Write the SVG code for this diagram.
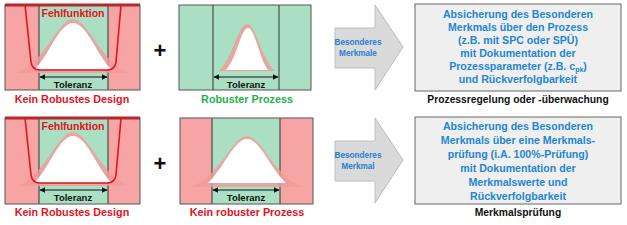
<svg xmlns="http://www.w3.org/2000/svg" width="627" height="225" viewBox="0 0 627 225">
<defs>
<style>
.pk{fill:#f6a4a4}
.gr{fill:#aadfc4}
.frame{fill:none;stroke:#555;stroke-width:1}
.vl{stroke:#333;stroke-width:1}
.tub{fill:none;stroke:#e4121b;stroke-width:1.6}
.topline{stroke:#e4121b;stroke-width:3}
.bellp{fill:#f39a9a;opacity:0.8}
.bellw{fill:#fff}
.tol{stroke:#111;stroke-width:1;marker-start:url(#ah);marker-end:url(#ah)}
.t{font-family:"Liberation Sans",Arial,sans-serif;font-weight:bold;text-anchor:middle}
.tt{font-size:9.5px;fill:#111}
.fehl{font-size:10.5px;fill:#e4121b}
.lr{font-size:10.8px;fill:#e4121b}
.lg{font-size:10.8px;fill:#22b04a}
.plus{font-size:22px;fill:#111}
.arr{fill:#dadada;stroke:#bdbdbd;stroke-width:1}
.at{font-size:8.2px;fill:#1f7fd0}
.box{fill:#efefef;stroke:#666;stroke-width:1}
.bt{font-size:10.6px;fill:#1f86d1}
.cap{font-size:10.3px;fill:#111}
</style>
<marker id="ah" viewBox="0 0 10 10" refX="9" refY="5" markerWidth="6" markerHeight="6" orient="auto-start-reverse" markerUnits="userSpaceOnUse"><path d="M0,0 L10,5 L0,10 Z" fill="#111"/></marker>
<clipPath id="c1"><rect x="5" y="5" width="135" height="85"/></clipPath>
<clipPath id="c3"><rect x="5" y="118" width="135" height="86"/></clipPath>
<clipPath id="c4"><rect x="180" y="118" width="133" height="86"/></clipPath>
</defs>

<!-- Top row, panel 1 -->
<g id="design-top">
<rect class="pk" x="5" y="5" width="135" height="85"/>
<rect class="gr" x="39" y="5" width="69" height="85"/>
<line class="vl" x1="39" y1="5" x2="39" y2="90"/>
<line class="vl" x1="108" y1="5" x2="108" y2="90"/>
<g clip-path="url(#c1)">
<path class="bellp" d="M17,73 C44,64 58,19 73,19 C88,19 102,64 129,73 Z"/>
<path class="bellw" d="M34,70 C49,56 59,23 73,23 C87,23 97,56 112,70 Z"/>
</g>
<path class="tub" d="M25,5 L31,62 Q32,70 40,70 L107,70 Q115,70 116,62 L121,5"/>
<line class="topline" x1="5" y1="5" x2="140" y2="5"/>
<rect class="frame" x="5" y="5" width="135" height="85"/>
<text class="t fehl" x="73" y="17">Fehlfunktion</text>
<line class="tol" x1="40" y1="77" x2="107" y2="77"/>
<text class="t tt" x="73" y="88">Toleranz</text>
<text class="t lr" x="72" y="103">Kein Robustes Design</text>
</g>

<text class="t plus" x="160" y="58">+</text>

<!-- Top row, panel 2 -->
<g id="process-top">
<rect class="gr" x="179" y="5" width="132" height="85"/>
<line class="vl" x1="213" y1="5" x2="213" y2="90"/>
<line class="vl" x1="279" y1="5" x2="279" y2="90"/>
<path class="bellp" d="M219,71 C232,60 238,24 247,24 C256,24 262,60 275,71 Z"/>
<path class="bellw" d="M226,70 C237,58 241,28 248,28 C255,28 259,58 268,70 Z"/>
<rect class="frame" x="179" y="5" width="132" height="85"/>
<line class="tol" x1="214" y1="77" x2="278" y2="77"/>
<text class="t tt" x="246" y="88">Toleranz</text>
<text class="t lg" x="247" y="103">Robuster Prozess</text>
</g>

<g id="arrow-top">
<polygon class="arr" points="335,28 375,28 375,5 403,47 375,90 375,68 335,68"/>
<text class="t at" x="358" y="45">Besonderes</text>
<text class="t at" x="358" y="56">Merkmale</text>
</g>

<g id="box-top">
<rect class="box" x="415" y="4" width="206" height="87"/>
<text class="t bt" x="518" y="18">Absicherung des Besonderen</text>
<text class="t bt" x="518" y="31">Merkmals über den Prozess</text>
<text class="t bt" x="518" y="44">(z.B. mit SPC oder SPÜ)</text>
<text class="t bt" x="518" y="57">mit Dokumentation der</text>
<text class="t bt" x="518" y="70">Prozessparameter (z.B. c<tspan font-size="7px" dy="2">pk</tspan><tspan dy="-2">)</tspan></text>
<text class="t bt" x="518" y="83">und Rückverfolgbarkeit</text>
<text class="t cap" x="518" y="103">Prozessregelung oder -überwachung</text>
</g>

<!-- Bottom row, panel 1 -->
<g id="design-bottom">
<rect class="pk" x="5" y="118" width="135" height="86"/>
<rect class="gr" x="39" y="118" width="69" height="86"/>
<line class="vl" x1="39" y1="118" x2="39" y2="204"/>
<line class="vl" x1="108" y1="118" x2="108" y2="204"/>
<g clip-path="url(#c3)">
<path class="bellp" d="M17,186 C44,177 58,132 73,132 C88,132 102,177 129,186 Z"/>
<path class="bellw" d="M34,183 C49,169 59,136 73,136 C87,136 97,169 112,183 Z"/>
</g>
<path class="tub" d="M25,118 L31,175 Q32,183 40,183 L107,183 Q115,183 116,175 L121,118"/>
<line class="topline" x1="5" y1="118" x2="140" y2="118"/>
<rect class="frame" x="5" y="118" width="135" height="86"/>
<text class="t fehl" x="73" y="130">Fehlfunktion</text>
<line class="tol" x1="40" y1="190" x2="107" y2="190"/>
<text class="t tt" x="73" y="201">Toleranz</text>
<text class="t lr" x="72" y="216">Kein Robustes Design</text>
</g>

<text class="t plus" x="160" y="171">+</text>

<!-- Bottom row, panel 2 -->
<g id="process-bottom">
<rect class="pk" x="180" y="118" width="133" height="86"/>
<rect class="gr" x="212" y="118" width="68" height="86"/>
<line class="vl" x1="212" y1="118" x2="212" y2="204"/>
<line class="vl" x1="280" y1="118" x2="280" y2="204"/>
<g clip-path="url(#c4)">
<path class="bellp" d="M191,187 C221,176 232,136 247,136 C262,136 273,176 303,187 Z"/>
<path class="bellw" d="M208,183 C224,168 234,139 247,139 C260,139 270,168 286,183 Z"/>
</g>
<rect class="frame" x="180" y="118" width="133" height="86"/>
<line class="tol" x1="213" y1="190" x2="279" y2="190"/>
<text class="t tt" x="246" y="201">Toleranz</text>
<text class="t lr" x="247" y="216">Kein robuster Prozess</text>
</g>

<g id="arrow-bottom">
<polygon class="arr" points="335,141 375,141 375,118 403,160 375,203 375,181 335,181"/>
<text class="t at" x="358" y="158">Besonderes</text>
<text class="t at" x="358" y="169">Merkmal</text>
</g>

<g id="box-bottom">
<rect class="box" x="415" y="117" width="206" height="87"/>
<text class="t bt" x="518" y="130">Absicherung des Besonderen</text>
<text class="t bt" x="518" y="144">Merkmals über eine Merkmals-</text>
<text class="t bt" x="518" y="158">prüfung (i.A. 100%-Prüfung)</text>
<text class="t bt" x="518" y="172">mit Dokumentation der</text>
<text class="t bt" x="518" y="186">Merkmalswerte und</text>
<text class="t bt" x="518" y="200">Rückverfolgbarkeit</text>
<text class="t cap" x="518" y="216">Merkmalsprüfung</text>
</g>
</svg>
